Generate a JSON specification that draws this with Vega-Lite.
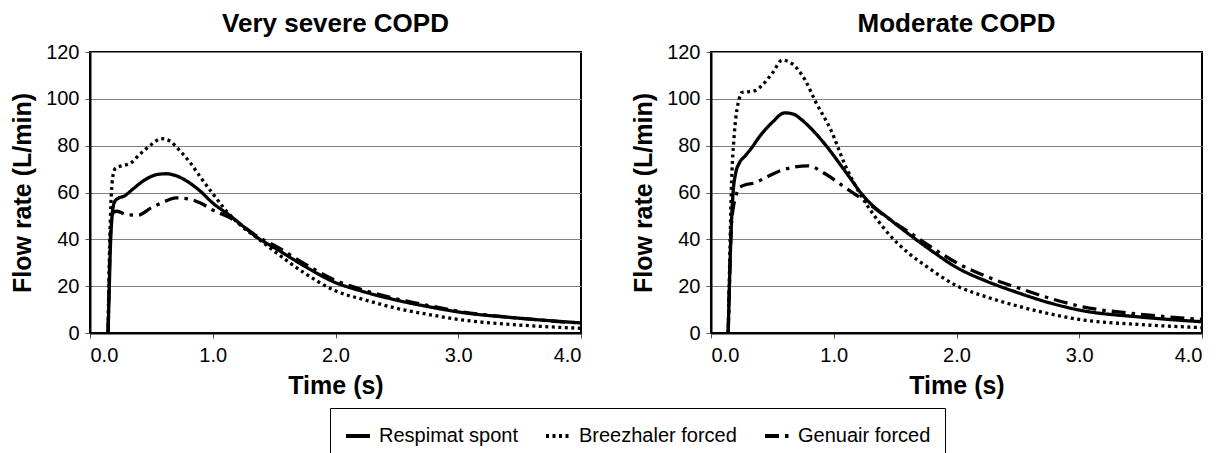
{
  "$schema": "https://vega.github.io/schema/vega-lite/v6.json",
  "background": "white",
  "padding": {"left": 9, "top": 10, "right": 3, "bottom": 5},
  "spacing": 47,
  "config": {
    "font": "Liberation Sans",
    "view": {"stroke": "black", "strokeWidth": 2},
    "axis": {
      "labelFont": "Liberation Sans", "labelFontSize": 20, "labelColor": "black",
      "titleFont": "Liberation Sans", "titleFontSize": 25, "titleFontWeight": "bold", "titleColor": "black",
      "domainColor": "black", "domainWidth": 2, "tickColor": "#555", "tickSize": 5,
      "gridColor": "#808080", "gridWidth": 1
    },
    "title": {"font": "Liberation Sans", "fontSize": 26, "fontWeight": "bold", "color": "black", "offset": 5},
    "legend": {
      "orient": "none", "legendX": 240, "legendY": 356, "direction": "horizontal",
      "strokeColor": "black", "strokeWidth": 1, "fillColor": "white", "padding": 14,
      "labelFont": "Liberation Sans", "labelFontSize": 20, "labelColor": "black",
      "symbolType": "stroke", "symbolSize": 576, "symbolStrokeWidth": 4, "symbolStrokeColor": "black",
      "columnPadding": 20, "labelOffset": 7
    }
  },
  "data": {"values": [
    {"panel":"Very severe COPD","series":"Respimat spont","t":0.147,"flow":0},
    {"panel":"Very severe COPD","series":"Respimat spont","t":0.155,"flow":15},
    {"panel":"Very severe COPD","series":"Respimat spont","t":0.165,"flow":35},
    {"panel":"Very severe COPD","series":"Respimat spont","t":0.18,"flow":50},
    {"panel":"Very severe COPD","series":"Respimat spont","t":0.2,"flow":56},
    {"panel":"Very severe COPD","series":"Respimat spont","t":0.23,"flow":57.5},
    {"panel":"Very severe COPD","series":"Respimat spont","t":0.28,"flow":58.5},
    {"panel":"Very severe COPD","series":"Respimat spont","t":0.35,"flow":61.5},
    {"panel":"Very severe COPD","series":"Respimat spont","t":0.45,"flow":65.5},
    {"panel":"Very severe COPD","series":"Respimat spont","t":0.55,"flow":67.7},
    {"panel":"Very severe COPD","series":"Respimat spont","t":0.62,"flow":68},
    {"panel":"Very severe COPD","series":"Respimat spont","t":0.7,"flow":67.2},
    {"panel":"Very severe COPD","series":"Respimat spont","t":0.8,"flow":64.5},
    {"panel":"Very severe COPD","series":"Respimat spont","t":0.9,"flow":60.5},
    {"panel":"Very severe COPD","series":"Respimat spont","t":1.0,"flow":55.5},
    {"panel":"Very severe COPD","series":"Respimat spont","t":1.13,"flow":50.5},
    {"panel":"Very severe COPD","series":"Respimat spont","t":1.25,"flow":45.5},
    {"panel":"Very severe COPD","series":"Respimat spont","t":1.37,"flow":40.5},
    {"panel":"Very severe COPD","series":"Respimat spont","t":1.5,"flow":36.5},
    {"panel":"Very severe COPD","series":"Respimat spont","t":1.75,"flow":28.5},
    {"panel":"Very severe COPD","series":"Respimat spont","t":2.0,"flow":21.5},
    {"panel":"Very severe COPD","series":"Respimat spont","t":2.18,"flow":18.4},
    {"panel":"Very severe COPD","series":"Respimat spont","t":2.5,"flow":14},
    {"panel":"Very severe COPD","series":"Respimat spont","t":2.75,"flow":11.3},
    {"panel":"Very severe COPD","series":"Respimat spont","t":3.0,"flow":9},
    {"panel":"Very severe COPD","series":"Respimat spont","t":3.5,"flow":6.3},
    {"panel":"Very severe COPD","series":"Respimat spont","t":4.0,"flow":4.3},

    {"panel":"Very severe COPD","series":"Breezhaler forced","t":0.147,"flow":0},
    {"panel":"Very severe COPD","series":"Breezhaler forced","t":0.155,"flow":25},
    {"panel":"Very severe COPD","series":"Breezhaler forced","t":0.17,"flow":55},
    {"panel":"Very severe COPD","series":"Breezhaler forced","t":0.19,"flow":68},
    {"panel":"Very severe COPD","series":"Breezhaler forced","t":0.21,"flow":70.5},
    {"panel":"Very severe COPD","series":"Breezhaler forced","t":0.27,"flow":71.5},
    {"panel":"Very severe COPD","series":"Breezhaler forced","t":0.33,"flow":72.5},
    {"panel":"Very severe COPD","series":"Breezhaler forced","t":0.4,"flow":76},
    {"panel":"Very severe COPD","series":"Breezhaler forced","t":0.5,"flow":80.5},
    {"panel":"Very severe COPD","series":"Breezhaler forced","t":0.58,"flow":83},
    {"panel":"Very severe COPD","series":"Breezhaler forced","t":0.65,"flow":82},
    {"panel":"Very severe COPD","series":"Breezhaler forced","t":0.72,"flow":78.5},
    {"panel":"Very severe COPD","series":"Breezhaler forced","t":0.82,"flow":72.5},
    {"panel":"Very severe COPD","series":"Breezhaler forced","t":0.9,"flow":66.5},
    {"panel":"Very severe COPD","series":"Breezhaler forced","t":1.0,"flow":59.5},
    {"panel":"Very severe COPD","series":"Breezhaler forced","t":1.13,"flow":51},
    {"panel":"Very severe COPD","series":"Breezhaler forced","t":1.25,"flow":45},
    {"panel":"Very severe COPD","series":"Breezhaler forced","t":1.37,"flow":40.3},
    {"panel":"Very severe COPD","series":"Breezhaler forced","t":1.5,"flow":35},
    {"panel":"Very severe COPD","series":"Breezhaler forced","t":1.75,"flow":25.5},
    {"panel":"Very severe COPD","series":"Breezhaler forced","t":2.0,"flow":18},
    {"panel":"Very severe COPD","series":"Breezhaler forced","t":2.25,"flow":14},
    {"panel":"Very severe COPD","series":"Breezhaler forced","t":2.5,"flow":10.5},
    {"panel":"Very severe COPD","series":"Breezhaler forced","t":2.75,"flow":8},
    {"panel":"Very severe COPD","series":"Breezhaler forced","t":3.0,"flow":5.8},
    {"panel":"Very severe COPD","series":"Breezhaler forced","t":3.5,"flow":3.4},
    {"panel":"Very severe COPD","series":"Breezhaler forced","t":4.0,"flow":2},

    {"panel":"Very severe COPD","series":"Genuair forced","t":0.147,"flow":0},
    {"panel":"Very severe COPD","series":"Genuair forced","t":0.155,"flow":20},
    {"panel":"Very severe COPD","series":"Genuair forced","t":0.17,"flow":45},
    {"panel":"Very severe COPD","series":"Genuair forced","t":0.19,"flow":51.5},
    {"panel":"Very severe COPD","series":"Genuair forced","t":0.22,"flow":52},
    {"panel":"Very severe COPD","series":"Genuair forced","t":0.3,"flow":50.5},
    {"panel":"Very severe COPD","series":"Genuair forced","t":0.39,"flow":50.3},
    {"panel":"Very severe COPD","series":"Genuair forced","t":0.5,"flow":53.5},
    {"panel":"Very severe COPD","series":"Genuair forced","t":0.6,"flow":56},
    {"panel":"Very severe COPD","series":"Genuair forced","t":0.7,"flow":57.7},
    {"panel":"Very severe COPD","series":"Genuair forced","t":0.8,"flow":57.3},
    {"panel":"Very severe COPD","series":"Genuair forced","t":0.9,"flow":55.5},
    {"panel":"Very severe COPD","series":"Genuair forced","t":1.0,"flow":52.5},
    {"panel":"Very severe COPD","series":"Genuair forced","t":1.13,"flow":49.5},
    {"panel":"Very severe COPD","series":"Genuair forced","t":1.25,"flow":45.5},
    {"panel":"Very severe COPD","series":"Genuair forced","t":1.37,"flow":41},
    {"panel":"Very severe COPD","series":"Genuair forced","t":1.5,"flow":37.5},
    {"panel":"Very severe COPD","series":"Genuair forced","t":1.75,"flow":29.5},
    {"panel":"Very severe COPD","series":"Genuair forced","t":2.0,"flow":22.5},
    {"panel":"Very severe COPD","series":"Genuair forced","t":2.25,"flow":18},
    {"panel":"Very severe COPD","series":"Genuair forced","t":2.5,"flow":14.5},
    {"panel":"Very severe COPD","series":"Genuair forced","t":2.75,"flow":11.8},
    {"panel":"Very severe COPD","series":"Genuair forced","t":3.0,"flow":9.3},
    {"panel":"Very severe COPD","series":"Genuair forced","t":3.5,"flow":6.3},
    {"panel":"Very severe COPD","series":"Genuair forced","t":4.0,"flow":4.2},

    {"panel":"Moderate COPD","series":"Respimat spont","t":0.14,"flow":0},
    {"panel":"Moderate COPD","series":"Respimat spont","t":0.15,"flow":20},
    {"panel":"Moderate COPD","series":"Respimat spont","t":0.165,"flow":45},
    {"panel":"Moderate COPD","series":"Respimat spont","t":0.18,"flow":60},
    {"panel":"Moderate COPD","series":"Respimat spont","t":0.2,"flow":68},
    {"panel":"Moderate COPD","series":"Respimat spont","t":0.23,"flow":72.5},
    {"panel":"Moderate COPD","series":"Respimat spont","t":0.28,"flow":75.7},
    {"panel":"Moderate COPD","series":"Respimat spont","t":0.33,"flow":79},
    {"panel":"Moderate COPD","series":"Respimat spont","t":0.39,"flow":83.5},
    {"panel":"Moderate COPD","series":"Respimat spont","t":0.5,"flow":90},
    {"panel":"Moderate COPD","series":"Respimat spont","t":0.6,"flow":94},
    {"panel":"Moderate COPD","series":"Respimat spont","t":0.67,"flow":93.5},
    {"panel":"Moderate COPD","series":"Respimat spont","t":0.74,"flow":91},
    {"panel":"Moderate COPD","series":"Respimat spont","t":0.83,"flow":86.5},
    {"panel":"Moderate COPD","series":"Respimat spont","t":0.93,"flow":80.5},
    {"panel":"Moderate COPD","series":"Respimat spont","t":1.09,"flow":69.3},
    {"panel":"Moderate COPD","series":"Respimat spont","t":1.25,"flow":58},
    {"panel":"Moderate COPD","series":"Respimat spont","t":1.47,"flow":48},
    {"panel":"Moderate COPD","series":"Respimat spont","t":1.63,"flow":41.5},
    {"panel":"Moderate COPD","series":"Respimat spont","t":1.8,"flow":35},
    {"panel":"Moderate COPD","series":"Respimat spont","t":2.0,"flow":28},
    {"panel":"Moderate COPD","series":"Respimat spont","t":2.25,"flow":22},
    {"panel":"Moderate COPD","series":"Respimat spont","t":2.5,"flow":17.2},
    {"panel":"Moderate COPD","series":"Respimat spont","t":2.75,"flow":13},
    {"panel":"Moderate COPD","series":"Respimat spont","t":3.0,"flow":9.8},
    {"panel":"Moderate COPD","series":"Respimat spont","t":3.5,"flow":6.8},
    {"panel":"Moderate COPD","series":"Respimat spont","t":4.0,"flow":4.8},

    {"panel":"Moderate COPD","series":"Breezhaler forced","t":0.14,"flow":0},
    {"panel":"Moderate COPD","series":"Breezhaler forced","t":0.15,"flow":25},
    {"panel":"Moderate COPD","series":"Breezhaler forced","t":0.165,"flow":60},
    {"panel":"Moderate COPD","series":"Breezhaler forced","t":0.19,"flow":85},
    {"panel":"Moderate COPD","series":"Breezhaler forced","t":0.21,"flow":95},
    {"panel":"Moderate COPD","series":"Breezhaler forced","t":0.23,"flow":100},
    {"panel":"Moderate COPD","series":"Breezhaler forced","t":0.25,"flow":102.7},
    {"panel":"Moderate COPD","series":"Breezhaler forced","t":0.3,"flow":103},
    {"panel":"Moderate COPD","series":"Breezhaler forced","t":0.36,"flow":103.5},
    {"panel":"Moderate COPD","series":"Breezhaler forced","t":0.42,"flow":106},
    {"panel":"Moderate COPD","series":"Breezhaler forced","t":0.5,"flow":111},
    {"panel":"Moderate COPD","series":"Breezhaler forced","t":0.58,"flow":116.5},
    {"panel":"Moderate COPD","series":"Breezhaler forced","t":0.66,"flow":115},
    {"panel":"Moderate COPD","series":"Breezhaler forced","t":0.77,"flow":107.7},
    {"panel":"Moderate COPD","series":"Breezhaler forced","t":0.85,"flow":99},
    {"panel":"Moderate COPD","series":"Breezhaler forced","t":0.98,"flow":86.3},
    {"panel":"Moderate COPD","series":"Breezhaler forced","t":1.09,"flow":72},
    {"panel":"Moderate COPD","series":"Breezhaler forced","t":1.2,"flow":60.7},
    {"panel":"Moderate COPD","series":"Breezhaler forced","t":1.34,"flow":49.4},
    {"panel":"Moderate COPD","series":"Breezhaler forced","t":1.47,"flow":41},
    {"panel":"Moderate COPD","series":"Breezhaler forced","t":1.6,"flow":34.5},
    {"panel":"Moderate COPD","series":"Breezhaler forced","t":1.74,"flow":29},
    {"panel":"Moderate COPD","series":"Breezhaler forced","t":2.0,"flow":20.2},
    {"panel":"Moderate COPD","series":"Breezhaler forced","t":2.25,"flow":15.3},
    {"panel":"Moderate COPD","series":"Breezhaler forced","t":2.5,"flow":11.5},
    {"panel":"Moderate COPD","series":"Breezhaler forced","t":2.75,"flow":8.3},
    {"panel":"Moderate COPD","series":"Breezhaler forced","t":3.0,"flow":5.8},
    {"panel":"Moderate COPD","series":"Breezhaler forced","t":3.5,"flow":3.6},
    {"panel":"Moderate COPD","series":"Breezhaler forced","t":4.0,"flow":2.3},

    {"panel":"Moderate COPD","series":"Genuair forced","t":0.14,"flow":0},
    {"panel":"Moderate COPD","series":"Genuair forced","t":0.15,"flow":20},
    {"panel":"Moderate COPD","series":"Genuair forced","t":0.165,"flow":45},
    {"panel":"Moderate COPD","series":"Genuair forced","t":0.18,"flow":53},
    {"panel":"Moderate COPD","series":"Genuair forced","t":0.2,"flow":58},
    {"panel":"Moderate COPD","series":"Genuair forced","t":0.23,"flow":62},
    {"panel":"Moderate COPD","series":"Genuair forced","t":0.28,"flow":63.3},
    {"panel":"Moderate COPD","series":"Genuair forced","t":0.35,"flow":64},
    {"panel":"Moderate COPD","series":"Genuair forced","t":0.45,"flow":66.5},
    {"panel":"Moderate COPD","series":"Genuair forced","t":0.55,"flow":69},
    {"panel":"Moderate COPD","series":"Genuair forced","t":0.66,"flow":70.7},
    {"panel":"Moderate COPD","series":"Genuair forced","t":0.79,"flow":71.4},
    {"panel":"Moderate COPD","series":"Genuair forced","t":0.93,"flow":68},
    {"panel":"Moderate COPD","series":"Genuair forced","t":1.09,"flow":62.2},
    {"panel":"Moderate COPD","series":"Genuair forced","t":1.25,"flow":56.5},
    {"panel":"Moderate COPD","series":"Genuair forced","t":1.47,"flow":48},
    {"panel":"Moderate COPD","series":"Genuair forced","t":1.63,"flow":42.5},
    {"panel":"Moderate COPD","series":"Genuair forced","t":1.8,"flow":36.5},
    {"panel":"Moderate COPD","series":"Genuair forced","t":2.0,"flow":30},
    {"panel":"Moderate COPD","series":"Genuair forced","t":2.25,"flow":24},
    {"panel":"Moderate COPD","series":"Genuair forced","t":2.5,"flow":19.3},
    {"panel":"Moderate COPD","series":"Genuair forced","t":2.75,"flow":15},
    {"panel":"Moderate COPD","series":"Genuair forced","t":3.0,"flow":11.5},
    {"panel":"Moderate COPD","series":"Genuair forced","t":3.5,"flow":8},
    {"panel":"Moderate COPD","series":"Genuair forced","t":4.0,"flow":5.8}
  ]},
  "resolve": {"legend": {"strokeDash": "shared"}},
  "hconcat": [
    {
      "width": 491, "height": 281,
      "title": {"text": "Very severe COPD"},
      "transform": [{"filter": "datum.panel === 'Very severe COPD'"}],
      "mark": {"type": "line", "color": "black", "strokeWidth": 3.3, "strokeCap": "butt", "interpolate": "monotone", "clip": true},
      "encoding": {
        "x": {"field": "t", "type": "quantitative", "scale": {"domain": [0, 4]},
              "axis": {"title": "Time (s)", "values": [0,1,2,3,4], "format": ".1f", "grid": false, "labelPadding": 7, "titlePadding": 8}},
        "y": {"field": "flow", "type": "quantitative", "scale": {"domain": [0, 120]},
              "axis": {"title": "Flow rate (L/min)", "values": [0,20,40,60,80,100,120], "grid": true, "labelPadding": 6, "titlePadding": 10}},
        "strokeDash": {"field": "series", "type": "nominal",
              "scale": {"domain": ["Respimat spont","Breezhaler forced","Genuair forced"], "range": [[1,0],[3,3.5],[14,6,3.5,6]]},
              "legend": {"title": null}},
        "detail": {"field": "series"}
      }
    },
    {
      "width": 491, "height": 281,
      "title": {"text": "Moderate COPD"},
      "transform": [{"filter": "datum.panel === 'Moderate COPD'"}],
      "mark": {"type": "line", "color": "black", "strokeWidth": 3.3, "strokeCap": "butt", "interpolate": "monotone", "clip": true},
      "encoding": {
        "x": {"field": "t", "type": "quantitative", "scale": {"domain": [0, 4]},
              "axis": {"title": "Time (s)", "values": [0,1,2,3,4], "format": ".1f", "grid": false, "labelPadding": 7, "titlePadding": 8}},
        "y": {"field": "flow", "type": "quantitative", "scale": {"domain": [0, 120]},
              "axis": {"title": "Flow rate (L/min)", "values": [0,20,40,60,80,100,120], "grid": true, "labelPadding": 6, "titlePadding": 10}},
        "strokeDash": {"field": "series", "type": "nominal",
              "scale": {"domain": ["Respimat spont","Breezhaler forced","Genuair forced"], "range": [[1,0],[3,3.5],[14,6,3.5,6]]},
              "legend": {"title": null}},
        "detail": {"field": "series"}
      }
    }
  ]
}
